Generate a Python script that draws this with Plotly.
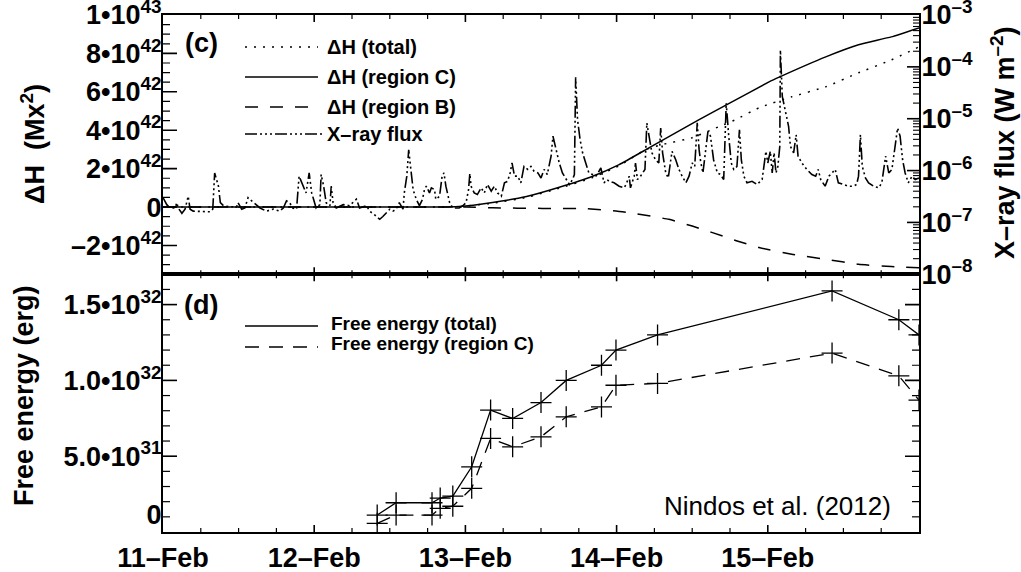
import math
import pandas as pd
import plotly.graph_objects as go

# ---------------- data ----------------
START = "2011-02-11 00:00"
day_ticks = ["2011-02-11", "2011-02-12", "2011-02-13", "2011-02-14", "2011-02-15"]
day_labels = ["11–Feb", "12–Feb", "13–Feb", "14–Feb", "15–Feb"]

# GOES X-ray flux (W m^-2), hours since 11-Feb 00:00
xray_hours = [0.0, 0.6, 1.1, 1.9, 2.2, 2.4, 3.0, 3.5, 4.0, 4.3, 4.8, 5.9, 7.5, 7.9, 8.2, 8.8, 9.1, 9.6,
              10.6, 11.7, 11.9, 12.5, 13.0, 13.5, 14.1, 14.9, 15.4, 16.4, 17.5, 18.5, 19.1, 19.6, 20.1,
              20.6, 21.2, 21.6, 22.2, 22.7, 23.2, 23.6, 23.9, 24.3, 24.9, 25.1, 25.5, 25.9, 26.5, 26.7,
              27.0, 27.5, 28.6, 29.6, 30.7, 31.2, 32.3, 32.8, 33.6, 34.4, 34.9, 35.4, 36.0, 36.5, 37.0,
              37.5, 38.1, 38.3, 38.7, 39.0, 39.3, 39.7, 40.2, 40.7, 41.2, 41.5, 41.8, 42.3, 42.6, 43.1,
              43.3, 43.9, 44.3, 44.6, 44.9, 45.5, 46.0, 47.0, 47.6, 48.1, 48.5, 48.7, 48.9, 49.4, 49.9,
              50.5, 51.0, 51.5, 52.1, 52.6, 53.1, 53.7, 54.2, 54.7, 55.1, 55.4, 55.8, 56.3, 56.8, 57.3,
              57.9, 58.4, 58.9, 59.5, 60.0, 60.5, 61.0, 61.6, 61.9, 62.4, 62.9, 63.4, 64.0, 64.5, 65.0,
              65.3, 65.5, 65.8, 66.2, 66.6, 67.1, 67.6, 68.2, 68.7, 69.2, 69.5, 70.0, 70.5, 70.8, 71.6,
              72.4, 73.2, 73.5, 74.0, 74.2, 74.8, 75.0, 75.3, 75.8, 76.1, 76.5, 76.8, 77.1, 77.6, 78.2,
              78.7, 79.0, 79.3, 79.8, 80.2, 80.6, 80.8, 81.4, 81.9, 82.4, 83.0, 83.5, 84.0, 84.4, 84.8,
              85.1, 85.3, 85.7, 86.1, 86.5, 86.9, 87.4, 88.0, 88.5, 89.0, 89.4, 89.8, 90.2, 90.6, 91.1,
              91.5, 91.8, 92.2, 92.7, 93.5, 94.3, 95.1, 95.4, 95.7, 96.0, 96.4, 96.7, 97.0, 97.3, 97.6,
              97.9, 98.0, 98.3, 98.8, 99.3, 99.6, 100.1, 100.5, 100.8, 101.4, 102.2, 103.0, 103.6, 104.0,
              104.4, 105.1, 105.7, 106.2, 106.7, 107.2, 108.0, 108.8, 109.6, 110.1, 110.4, 110.7, 111.0,
              111.5, 112.0, 112.8, 113.6, 114.1, 114.7, 115.2, 115.7, 116.2, 116.6, 117.0, 117.4, 117.8,
              118.3, 118.9, 119.4, 120.0]
xray_flux = [3.0e-7, 2.2e-7, 1.9e-7, 1.9e-7, 2.4e-7, 1.9e-7, 1.5e-7, 1.8e-7, 3.2e-7, 1.8e-7, 1.65e-7,
             1.65e-7, 1.6e-7, 1.8e-7, 9.0e-7, 5.0e-7, 2.4e-7, 2.1e-7, 2.0e-7, 2.0e-7, 2.4e-7, 1.8e-7,
             1.9e-7, 3.0e-7, 2.6e-7, 2.1e-7, 1.9e-7, 1.65e-7, 1.8e-7, 1.65e-7, 1.9e-7, 2.6e-7, 2.4e-7,
             1.9e-7, 1.8e-7, 7.8e-7, 5.0e-7, 3.7e-7, 9.0e-7, 3.7e-7, 2.8e-7, 1.9e-7, 2.2e-7, 8.4e-7,
             5.0e-7, 2.4e-7, 2.1e-7, 5.0e-7, 2.4e-7, 1.9e-7, 2.2e-7, 2.1e-7, 2.8e-7, 1.9e-7, 2.1e-7,
             1.65e-7, 1.4e-7, 1.15e-7, 1.3e-7, 1.5e-7, 1.8e-7, 1.65e-7, 1.8e-7, 2.4e-7, 1.8e-7, 3.7e-7,
             7.8e-7, 2.5e-6, 1.05e-6, 4.3e-7, 2.8e-7, 2.1e-7, 2.8e-7, 4.3e-7, 5.0e-7, 3.7e-7, 4.65e-7,
             4.3e-7, 2.8e-7, 3.2e-7, 7.8e-7, 9.0e-7, 5.0e-7, 2.4e-7, 1.9e-7, 1.9e-7, 2.1e-7, 2.4e-7,
             4.3e-7, 8.75e-7, 5.0e-7, 3.7e-7, 3.45e-7, 4.65e-7, 3.7e-7, 5.4e-7, 4.0e-7, 5.0e-7, 3.7e-7,
             3.2e-7, 5.8e-7, 6.2e-7, 9.0e-7, 1.4e-6, 7.8e-7, 7.8e-7, 5.8e-7, 1.2e-6, 1.05e-6, 1.2e-6,
             9.7e-7, 9.0e-7, 7.2e-7, 1.05e-6, 8.4e-7, 1.9e-6, 4.6e-6, 2.5e-6, 1.4e-6, 9.0e-7, 6.7e-7,
             5.4e-7, 6.7e-7, 8.4e-7, 6.3e-5, 9.6e-6, 4.0e-6, 2.2e-6, 1.4e-6, 9.0e-7, 8.4e-7, 7.8e-7,
             9.7e-7, 1.13e-6, 5.8e-7, 6.7e-7, 6.2e-7, 5.8e-7, 5.0e-7, 4.65e-7, 5.4e-7, 7.8e-7, 4.65e-7,
             7.8e-7, 1.4e-6, 6.7e-7, 7.8e-7, 9.0e-7, 1.05e-6, 8.3e-6, 4.9e-6, 2.2e-6, 1.6e-6, 1.4e-6,
             6.6e-6, 2.2e-6, 9.0e-7, 7.2e-7, 1.6e-6, 2.35e-6, 1.6e-6, 1.05e-6, 7.8e-7, 5.8e-7, 7.8e-7,
             1.4e-6, 1.2e-6, 8.3e-6, 2.5e-6, 1.6e-6, 9.0e-7, 2.2e-6, 5.7e-6, 4.6e-6, 1.6e-6, 9.0e-7,
             8.4e-7, 6.7e-7, 2.0e-5, 4.6e-6, 1.4e-6, 1.05e-6, 1.2e-6, 6.1e-6, 1.6e-6, 7.8e-7, 5.8e-7,
             6.2e-7, 5.4e-7, 6.7e-7, 1.2e-6, 2.35e-6, 1.4e-6, 2.35e-6, 9.0e-7, 2.2e-6, 9.0e-7, 1.2e-6,
             2.9e-6, 2.1e-4, 2.7e-5, 1.3e-5, 7.1e-6, 2.9e-6, 2.2e-6, 4.9e-6, 1.9e-6, 1.4e-6, 1.05e-6,
             8.4e-7, 7.8e-7, 1.05e-6, 6.7e-7, 5.0e-7, 7.8e-7, 9.0e-7, 1.05e-6, 5.8e-7, 5.4e-7, 5.0e-7,
             5.0e-7, 5.4e-7, 7.8e-7, 4.9e-6, 1.2e-6, 7.2e-7, 5.8e-7, 5.0e-7, 4.65e-7, 5.8e-7, 1.9e-6,
             9.0e-7, 1.05e-6, 2.9e-6, 6.6e-6, 4.6e-6, 1.6e-6, 9.0e-7, 5.8e-7, 7.8e-7, 6.7e-7, 7.2e-7]

# Helicity injection (Mx^2)
dh_regionC_hours = [0, 42, 47.0, 52.3, 57.7, 62.9, 68.1, 72.4, 77.2, 85.1, 89.5, 96.2, 97.9, 105.2,
                    110.4, 115.6, 120]
dh_regionC = [0, 0, 0.03e42, 0.24e42, 0.55e42, 1.03e42, 1.59e42, 2.21e42, 3.09e42, 4.55e42, 5.33e42,
              6.52e42, 6.78e42, 7.82e42, 8.45e42, 8.86e42, 9.33e42]
dh_total_hours = [0, 42, 47.0, 52.3, 57.7, 62.9, 68.1, 72.4, 76.6, 79.2, 84.0, 88.2, 90.9, 94.6, 99.8,
                  105.2, 110.4, 115.6, 120]
dh_total = [0, 0, 0.02e42, 0.2e42, 0.5e42, 0.98e42, 1.52e42, 2.15e42, 2.99e42, 3.25e42, 3.61e42,
            4.18e42, 4.55e42, 5.17e42, 5.74e42, 6.26e42, 6.99e42, 7.66e42, 8.34e42]
dh_regionB_hours = [0, 48, 52.3, 60.2, 67.2, 71.9, 75.1, 80.3, 84.0, 87.1, 91.0, 94.6, 99.8, 105.2,
                    110.4, 115.6, 120]
dh_regionB = [0, 0, -0.04e42, -0.07e42, -0.09e42, -0.21e42, -0.35e42, -0.64e42, -0.99e42, -1.32e42,
              -1.75e42, -2.11e42, -2.46e42, -2.72e42, -2.98e42, -3.10e42, -3.16e42]

# Free energy (erg)
fe_hours = [34.0, 37.0, 42.7, 44.0, 46.0, 49.0, 52.0, 55.5, 60.0, 64.0, 69.6, 71.9, 78.5, 106.2,
            116.8, 120.0]
fe_total = [1.12e31, 1.93e31, 1.93e31, 2.24e31, 2.37e31, 4.3e31, 8.04e31, 7.49e31, 8.54e31, 1.0e32,
            1.1e32, 1.2e32, 1.3e32, 1.59e32, 1.40e32, 1.30e32]
fe_regionC = [0.57e31, 1.12e31, 1.12e31, 1.56e31, 1.7e31, 2.88e31, 6.17e31, 5.62e31, 6.28e31, 7.6e31,
              8.25e31, 9.68e31, 9.8e31, 1.18e32, 1.03e32, 0.87e32]

dh_tickvals = [-2e42, 0, 2e42, 4e42, 6e42, 8e42, 1e43]
dh_ticktext = ["–2•10<sup>42</sup>", "0", "2•10<sup>42</sup>", "4•10<sup>42</sup>",
               "6•10<sup>42</sup>", "8•10<sup>42</sup>", "1•10<sup>43</sup>"]
xr_tickvals = [1e-8, 1e-7, 1e-6, 1e-5, 1e-4, 1e-3]
xr_ticktext = ["10<sup>–8</sup>", "10<sup>–7</sup>", "10<sup>–6</sup>", "10<sup>–5</sup>",
               "10<sup>–4</sup>", "10<sup>–3</sup>"]
fe_tickvals = [0, 5e31, 1e32, 1.5e32]
fe_ticktext = ["0<br>&nbsp;", "5.0•10<sup>31</sup>", "1.0•10<sup>32</sup>", "1.5•10<sup>32</sup>"]

# axis ranges
FE_RANGE = [0, 1.7e32]
DH_RANGE = [-3.5e42, 1e43]
XR_RANGE_LOG = [-8, -3]
SPAN_HOURS = 120

# ---------------- helpers ----------------
T0 = pd.Timestamp(START)
T1 = T0 + pd.Timedelta(hours=SPAN_HOURS)


def at(hours):
    return [T0 + pd.Timedelta(hours=h) for h in hours]


FONT = "Liberation Sans, Arial, Helvetica, sans-serif"
BLACK = "black"
DOTTED = "2px,7px"
DASHED = "13px,12px"
DASHDOT3 = "12px,3px,2px,3px,2px,3px,2px,3px"
SPLIT = 0.4985
PLOT_W, PLOT_H = 756.0, 517.0   # plot-area size in px (figure minus margins)

fig = go.Figure()

# top panel
fig.add_trace(go.Scatter(x=at(dh_total_hours), y=dh_total, xaxis="x2", yaxis="y2", mode="lines",
                         line=dict(color=BLACK, width=1.5, dash=DOTTED, shape="spline", smoothing=0.4)))
fig.add_trace(go.Scatter(x=at(dh_regionC_hours), y=dh_regionC, xaxis="x2", yaxis="y2", mode="lines",
                         line=dict(color=BLACK, width=1.5, shape="spline", smoothing=0.4)))
fig.add_trace(go.Scatter(x=at(dh_regionB_hours), y=dh_regionB, xaxis="x2", yaxis="y2", mode="lines",
                         line=dict(color=BLACK, width=1.5, dash=DASHED, shape="spline", smoothing=0.4)))
fig.add_trace(go.Scatter(x=at(xray_hours), y=xray_flux, xaxis="x2", yaxis="y3", mode="lines",
                         line=dict(color=BLACK, width=1.6, dash=DASHDOT3)))

# bottom panel
fig.add_trace(go.Scatter(x=at(fe_hours), y=fe_total, xaxis="x", yaxis="y", mode="lines+markers",
                         line=dict(color=BLACK, width=1.3),
                         marker=dict(symbol="cross-thin", size=15, line=dict(color=BLACK, width=1.3))))
fig.add_trace(go.Scatter(x=at(fe_hours), y=fe_regionC, xaxis="x", yaxis="y", mode="lines+markers",
                         line=dict(color=BLACK, width=1.3, dash="14px,10px"),
                         marker=dict(symbol="cross-thin", size=15, line=dict(color=BLACK, width=1.3))))

tickfont = dict(family=FONT, size=27, color=BLACK, weight="bold")
common = dict(showline=True, linewidth=2, linecolor=BLACK, ticks="", showgrid=False,
              zeroline=False, automargin=False, ticklabeloverflow="allow", tickfont=tickfont)

fig.update_layout(
    width=1021, height=572,
    margin=dict(l=163, r=102, t=15, b=40, autoexpand=False),
    paper_bgcolor="white", plot_bgcolor="white",
    showlegend=False, dragmode=False, hovermode=False,
    xaxis=dict(domain=[0, 1], anchor="y", type="date", range=[T0, T1], mirror=True,
               tickmode="array", tickvals=day_ticks, ticktext=day_labels, ticklabelstandoff=1,
               fixedrange=True, **common),
    xaxis2=dict(domain=[0, 1], anchor="y2", type="date", range=[T0, T1], mirror=True,
                tickmode="array", tickvals=day_ticks, showticklabels=False, fixedrange=True,
                **common),
    yaxis=dict(domain=[0, SPLIT], anchor="x", range=FE_RANGE, mirror=True, fixedrange=True,
               tickmode="array", tickvals=fe_tickvals, ticktext=fe_ticktext, ticklabelstandoff=-6,
               **common),
    yaxis2=dict(domain=[SPLIT, 1], anchor="x2", range=DH_RANGE, fixedrange=True,
                tickmode="array", tickvals=dh_tickvals, ticktext=dh_ticktext, ticklabelstandoff=-6,
                **common),
    yaxis3=dict(overlaying="y2", anchor="x2", side="right", type="log", range=XR_RANGE_LOG,
                tickmode="array", tickvals=xr_tickvals, ticktext=xr_ticktext, fixedrange=True,
                ticklabelstandoff=-5, **common),
)

shapes = []

# ---------------- inward tick marks ----------------
x_major_h = [24 * d for d in range(1, SPAN_HOURS // 24)]
x_minor_h = [h for h in range(6, SPAN_HOURS, 6) if h % 24]
fe_major = fe_tickvals[1:]
fe_minor = [k * 1e31 for k in range(1, 17) if k % 5]
dh_major = dh_tickvals[:-1]
dh_minor = [k * 5e41 for k in range(-6, 20) if k % 4]
xr_major = xr_tickvals[1:-1]
xr_minor = [m * 10.0 ** e for e in range(-8, -3) for m in range(2, 10)]


def seg_trace(xs, ys, xa, ya, width):
    fig.add_trace(go.Scatter(x=xs, y=ys, xaxis=xa, yaxis=ya, mode="lines", hoverinfo="skip",
                             line=dict(color=BLACK, width=width)))


# method B: line segments in data space
# left ticks, top panel (ΔH axis)
for vals, length, w in [(dh_major, 14, 1.6), (dh_minor, 7, 1.2)]:
    dx = pd.Timedelta(hours=SPAN_HOURS * length / PLOT_W)
    xs, ys = [], []
    for v in vals:
        xs += [T0, T0 + dx, None]
        ys += [v, v, None]
    seg_trace(xs, ys, "x2", "y2", w)

# bottom ticks, bottom panel
for hrs, length, w in [(x_major_h, 7, 1.6), (x_minor_h, 4, 1.2)]:
    dy = (FE_RANGE[1] - FE_RANGE[0]) * length / (PLOT_H * SPLIT)
    xs, ys = [], []
    for t in at(hrs):
        xs += [t, t, None]
        ys += [FE_RANGE[0], FE_RANGE[0] + dy, None]
    seg_trace(xs, ys, "x", "y", w)


# method A: paper-referenced shapes
def pline(x0, y0, x1, y1, w):
    shapes.append(dict(type="line", xref="paper", yref="paper", x0=x0, y0=y0, x1=x1, y1=y1,
                       layer="above", line=dict(color=BLACK, width=w)))


def fe_paper(v):
    return SPLIT * (v - FE_RANGE[0]) / (FE_RANGE[1] - FE_RANGE[0])


def xr_paper(v):
    return SPLIT + (1 - SPLIT) * (math.log10(v) - XR_RANGE_LOG[0]) / (XR_RANGE_LOG[1] - XR_RANGE_LOG[0])


for vals, length, w in [(fe_major, 14, 1.6), (fe_minor, 7, 1.2)]:
    for v in vals:
        pline(0, fe_paper(v), length / PLOT_W, fe_paper(v), w)
for vals, length, w in [(xr_major, 12, 1.6), (xr_minor, 6, 1.1)]:
    for v in vals:
        pline(1, xr_paper(v), 1 - length / PLOT_W, xr_paper(v), w)
for hrs, length, w in [(x_major_h, 7, 1.6), (x_minor_h, 4, 1.2)]:
    for h in hrs:
        pline(h / SPAN_HOURS, 1, h / SPAN_HOURS, 1 - length / PLOT_H, w)

# method C: shapes referenced to axes (worked on the right edge)
for vals, length, w in [(fe_major, 14, 1.6), (fe_minor, 7, 1.2)]:
    for v in vals:
        shapes.append(dict(type="line", xref="paper", yref="y", x0=1, x1=1 - length / PLOT_W,
                           y0=v, y1=v, layer="above", line=dict(color=BLACK, width=w)))
for xref, edge, inward in [("x", SPLIT, -1), ("x2", SPLIT, 1)]:
    for hrs, length, w in [(x_major_h, 7, 1.6), (x_minor_h, 4, 1.2)]:
        for t in at(hrs):
            ts = t.strftime("%Y-%m-%d %H:%M:%S")
            shapes.append(dict(type="line", xref=xref, yref="paper", x0=ts, x1=ts, y0=edge,
                               y1=edge + inward * length / PLOT_H, layer="above",
                               line=dict(color=BLACK, width=w)))


# ---------------- annotations / legend keys ----------------
def px_x(px):
    return (px - 163) / PLOT_W


def px_y(py):
    return (532 - py) / PLOT_H


ann = []


def text(px, py, s, size, bold=True, xanchor="left", angle=0):
    ann.append(dict(x=px_x(px), y=px_y(py), xref="paper", yref="paper", text=s, showarrow=False,
                    xanchor=xanchor, yanchor="middle", textangle=angle,
                    font=dict(family=FONT, size=size, color=BLACK,
                              weight="bold" if bold else "normal")))


def key(py, dash, x0=245, x1=318):
    shapes.append(dict(type="line", xref="paper", yref="paper", x0=px_x(x0), x1=px_x(x1),
                       y0=px_y(py), y1=px_y(py), line=dict(color=BLACK, width=1.5, dash=dash)))


text(201, 43, "(c)", 27, xanchor="center")
text(201, 305, "(d)", 27, xanchor="center")

top_rows = [(47, "ΔH (total)", DOTTED), (77, "ΔH (region C)", "solid"),
            (107, "ΔH (region B)", DASHED), (134, "X–ray flux", DASHDOT3)]
for py, s, d in top_rows:
    key(py, d, x1=322 if s.startswith("X") else 318)
    text(325, py, s, 20)

key(326, "solid")
key(347, "14px,10px")
text(329, 323, "Free energy (total)", 19)
text(329, 343, "Free energy (region C)", 19)

text(893, 506, "Nindos et al. (2012)", 26, bold=False, xanchor="right")

text(33, 144, "ΔH  (Mx<sup>2</sup>)", 27, xanchor="center", angle=-90)
text(24, 396, "Free energy (erg)", 27, xanchor="center", angle=-90)
text(1003, 143, "X–ray flux (W m<sup>–2</sup>)", 27, xanchor="center", angle=-90)

fig.update_layout(annotations=ann, shapes=shapes)

fig.write_html("out.html", config={"staticPlot": True})
